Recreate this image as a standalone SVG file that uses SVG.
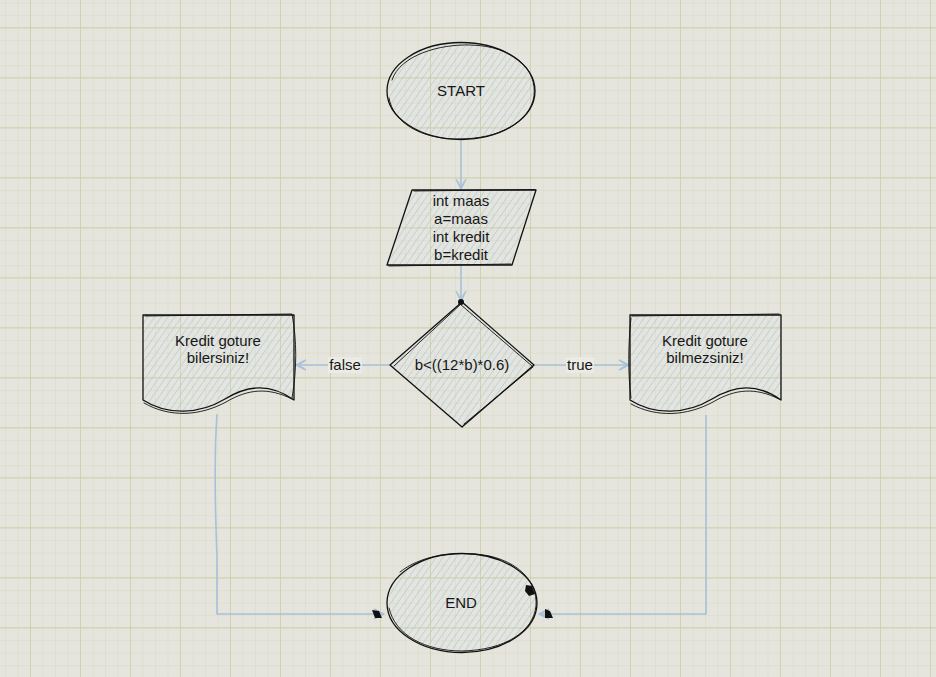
<svg xmlns="http://www.w3.org/2000/svg" width="936" height="677" viewBox="0 0 936 677">
<style>
.ol{fill:none;stroke:#111;stroke-width:1.3;stroke-linejoin:round;stroke-linecap:round}
.ol2{fill:none;stroke:#111;stroke-width:0.9;stroke-linejoin:round;stroke-linecap:round}
.hf{fill:url(#hatch);stroke:none}
.t{font-family:"Liberation Sans",Arial,sans-serif;font-size:15px;fill:#161616;text-anchor:middle}
.c{fill:none;stroke:#a6c1d9;stroke-width:1.6;stroke-linejoin:round}
.lb{fill:#ebebe5}
.blob{fill:#111}
</style>
<defs>
<pattern id="minor" x="5" y="2.7" width="12.5" height="12.5" patternUnits="userSpaceOnUse">
<path d="M0,0 V12.5 M0,0 H12.5" stroke="#d8d8c6" stroke-width="1" fill="none"/>
</pattern>
<pattern id="major" x="30" y="27.3" width="50" height="50" patternUnits="userSpaceOnUse">
<path d="M0,0 V50 M0,0 H50" stroke="#cbcb9e" stroke-width="1.3" fill="none"/>
</pattern>
<pattern id="hatch" width="5.5" height="5.5" patternUnits="userSpaceOnUse" patternTransform="rotate(35)">
<line x1="0" y1="0" x2="0" y2="5.5" stroke="#a8c7e3" stroke-width="1.2"/>
</pattern>
<marker id="arr" viewBox="0 0 12 12" refX="11" refY="6" markerWidth="12" markerHeight="12" markerUnits="userSpaceOnUse" orient="auto">
<path d="M1,1 L11,6 L1,11 M3,2.5 L10,6 L3,9.5" fill="none" stroke="#a6c1d9" stroke-width="1.4"/>
</marker>
</defs>
<rect width="936" height="677" fill="#e5e5dd"/>
<rect width="936" height="677" fill="url(#minor)"/>
<rect width="936" height="677" fill="url(#major)"/>

<g id="connectors">
<path class="c" d="M461,141 L461,189" marker-end="url(#arr)"/>
<path class="c" d="M461,266 L461,301" marker-end="url(#arr)"/>
<path class="c" d="M390,365 L296,365" marker-end="url(#arr)"/>
<path class="c" d="M534,365 L629,365" marker-end="url(#arr)"/>
<path class="c" d="M217,414 C213,470 216,520 217,560 L217,614 L384,614" marker-end="url(#arr)"/>
<path class="c" d="M706,415 L706,614 L539,614" marker-end="url(#arr)"/>
<g id="label-false"><rect class="lb" x="328" y="357" width="34" height="16"/><text class="t" x="345" y="370">false</text></g>
<g id="label-true"><rect class="lb" x="566" y="357" width="28" height="16"/><text class="t" x="580" y="370">true</text></g>
<path class="blob" d="M372,610 L379,611 L382,618 L375,618 Z"/>
<path class="blob" d="M545,609 L550,611 L553,618 L545,618 Z"/>
<circle class="blob" cx="461" cy="302" r="3"/>
</g>

<g id="start">
<ellipse class="hf" cx="461" cy="91" rx="73" ry="48"/>
<ellipse class="ol" cx="461" cy="91" rx="74" ry="48.5"/>
<path class="ol2" d="M392,80 C400,55 440,44 470,45 C515,46 537,70 534,96 C530,122 500,139 458,139 C420,139 393,122 389,98"/>
<text class="t" x="461" y="96">START</text>
</g>

<g id="input">
<path class="hf" d="M412,190 L536,190 L512,265 L387,265 Z"/>
<path class="ol" d="M412,190 L536,190 L512,265 L387,265 Z"/>
<path class="ol2" d="M414,191 L535,189.5 M511,264 L389,266"/>
<text class="t" x="461" y="206">int maas</text>
<text class="t" x="461" y="224">a=maas</text>
<text class="t" x="461" y="242">int kredit</text>
<text class="t" x="461" y="260">b=kredit</text>
</g>

<g id="decision">
<path class="hf" d="M462,302 L534,365 L462,427 L390,365 Z"/>
<path class="ol" d="M462,302 L534,365 L462,427 L390,365 Z"/>
<path class="ol2" d="M460,304 L532,366 M533,367 L464,424 M394,366 L461,304"/>
<text class="t" x="462" y="370">b&lt;((12*b)*0.6)</text>
</g>

<g id="doc-left">
<path class="hf" d="M143,315 L294,315 L294,400 C270,383 248,385 225,399 C200,414 168,416 143,400 Z"/>
<path class="ol" d="M143,315 L294,315 L294,400 C270,383 248,385 225,399 C200,414 168,416 143,400 Z"/>
<path class="ol2" d="M145,316 L292,314 C297,340 297,370 292,398 M144,403 C170,418 200,416 226,402 C248,389 268,387 292,399"/>
<text class="t" x="218" y="346">Kredit goture</text>
<text class="t" x="218" y="363">bilersiniz!</text>
</g>

<g id="doc-right">
<path class="hf" d="M630,315 L781,315 L781,400 C757,383 735,385 712,399 C687,414 655,416 630,400 Z"/>
<path class="ol" d="M630,315 L781,315 L781,400 C757,383 735,385 712,399 C687,414 655,416 630,400 Z"/>
<path class="ol2" d="M632,316 L779,314 M631,318 C628,345 628,375 631,398 M631,404 C657,418 687,416 713,402 C735,389 755,387 779,399"/>
<text class="t" x="705" y="346">Kredit goture</text>
<text class="t" x="705" y="363">bilmezsiniz!</text>
</g>

<g id="end">
<ellipse class="hf" cx="462" cy="603" rx="74" ry="49"/>
<ellipse class="ol" cx="462" cy="603" rx="75" ry="49.5"/>
<path class="ol2" d="M400,572 C420,556 450,552 475,554 C515,557 538,580 536,606 C533,632 505,650 462,651 C425,651 395,635 389,608"/>
<path class="blob" d="M526,585 L532,586 L535,594 L529,596 L525,591 Z"/>
<text class="t" x="461" y="608">END</text>
</g>
</svg>
